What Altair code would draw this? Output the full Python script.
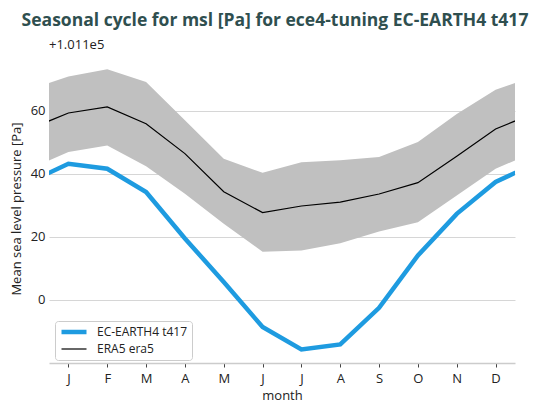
import pandas as pd
import altair as alt

# monthly values, offset from 1.011e5 Pa
month_labels = ['J', 'F', 'M', 'A', 'M', 'J', 'J', 'A', 'S', 'O', 'N', 'D']
ece4 = [43.2, 41.6, 34.2, 19.5, 5.7, -8.6, -15.7, -14.1, -2.5, 14.1, 27.3, 37.4]
era5 = [59.3, 61.2, 55.9, 46.4, 34.3, 27.7, 29.8, 31.0, 33.6, 37.2, 45.6, 54.2]
era5_upper = [70.9, 73.2, 69.1, 57.0, 44.8, 40.3, 43.7, 44.3, 45.3, 50.1, 59.0, 66.7]
era5_lower = [46.9, 49.0, 42.4, 33.7, 24.2, 15.3, 15.7, 18.0, 21.7, 24.6, 33.1, 41.6]
series_names = ['EC-EARTH4 t417', 'ERA5 era5']
offset_label = '+1.011e5'


def wrap(vals):
    # repeat Dec before Jan and Jan after Dec so the cycle closes at the edges
    return [vals[-1]] + list(vals) + [vals[0]]


months = list(range(0, 14))
band = pd.DataFrame({'month': months, 'lower': wrap(era5_lower), 'upper': wrap(era5_upper)})
lines = pd.concat([
    pd.DataFrame({'month': months, 'value': wrap(ece4), 'series': series_names[0]}),
    pd.DataFrame({'month': months, 'value': wrap(era5), 'series': series_names[1]}),
])

FONT = 'Open Sans'
xscale = alt.Scale(domain=[0.5, 12.5], nice=False, zero=False)
yscale = alt.Scale(domain=[-20, 78], nice=False, zero=False)

label_expr = '[' + ','.join("'%s'" % m for m in month_labels) + '][datum.value - 1]'

band_chart = alt.Chart(band).mark_area(color='#c0c0c0', clip=True).encode(
    x=alt.X('month:Q', scale=xscale, title='month',
            axis=alt.Axis(values=list(range(1, 13)), labelExpr=label_expr, grid=False,
                          domainColor='#cccccc', domainWidth=1.5,
                          tickColor='#444444', tickSize=4, tickWidth=1,
                          labelPadding=5, titlePadding=4)),
    y=alt.Y('lower:Q', scale=yscale, title='Mean sea level pressure [Pa]',
            axis=alt.Axis(values=[0, 20, 40, 60], grid=True, gridColor='#d6d6d6',
                          domain=False, ticks=False, labelPadding=4, titlePadding=7)),
    y2='upper:Q',
)

legend = alt.Legend(title=None, orient='none', legendX=6, legendY=267,
                    symbolType='stroke', symbolSize=625, clipHeight=14,
                    labelFont=FONT, labelFontSize=12, labelColor='#222222',
                    fillColor='white', strokeColor='#cccccc', cornerRadius=3,
                    padding=4, rowPadding=3, labelOffset=8)

line_chart = alt.Chart(lines).mark_line(clip=True).encode(
    x=alt.X('month:Q', scale=xscale),
    y=alt.Y('value:Q', scale=yscale),
    color=alt.Color('series:N', scale=alt.Scale(domain=series_names, range=['#1e9be0', '#000000']),
                    legend=legend),
    strokeWidth=alt.StrokeWidth('series:N', scale=alt.Scale(domain=series_names, range=[4.5, 1.2]),
                                legend=legend),
    order='series:N',
)

offset_text = alt.Chart(pd.DataFrame({'t': [offset_label]})).mark_text(
    align='left', baseline='bottom', font=FONT, fontSize=13, color='#222222'
).encode(x=alt.value(0), y=alt.value(-2), text='t:N')

chart = alt.layer(band_chart, line_chart, offset_text).properties(
    width=466, height=309,
    autosize=alt.AutoSizeParams(type='none'),
    padding={'left': 41, 'top': 46, 'right': 20, 'bottom': 40},
    title=alt.Title('Seasonal cycle for msl [Pa] for ece4-tuning EC-EARTH4 t417',
                    font=FONT, fontSize=17.5, fontWeight='bold', color='#2f4f4f',
                    anchor='middle', dx=-7, offset=10),
).configure_axis(
    labelFont=FONT, labelFontSize=13, labelColor='#222222',
    titleFont=FONT, titleFontSize=13, titleColor='#222222', titleFontWeight='normal',
).configure_view(stroke=None)

chart.save('out.html', embed_options={'renderer': 'svg', 'actions': False})
